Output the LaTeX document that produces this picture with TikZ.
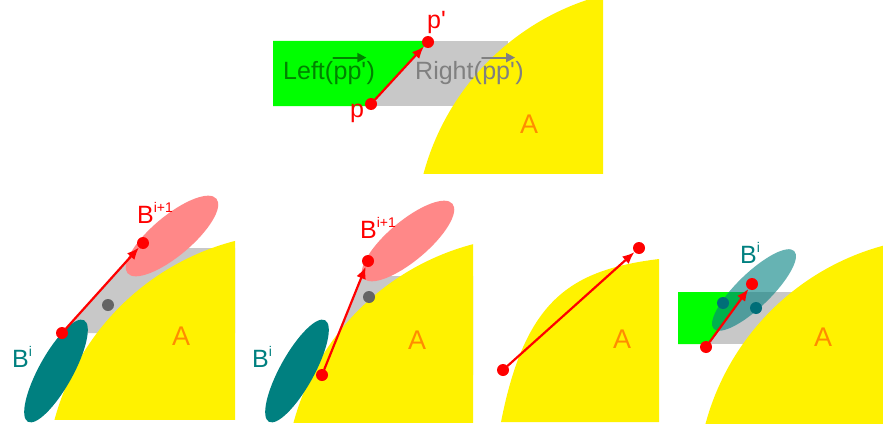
\documentclass[tikz,border=0pt]{standalone}
\usepackage{fontspec}
\setmainfont{Liberation Sans}
\usetikzlibrary{arrows.meta}
\definecolor{bandgray}{RGB}{200,200,200}
\definecolor{leftgreen}{RGB}{0,255,0}
\definecolor{lefttext}{RGB}{0,130,0}
\definecolor{righttext}{RGB}{128,128,128}
\definecolor{bteal}{RGB}{0,128,128}
\definecolor{bpink}{RGB}{255,136,136}
\definecolor{aorange}{RGB}{255,140,0}
\definecolor{darkdot}{RGB}{100,100,100}
\definecolor{tealdot}{RGB}{0,110,120}
\tikzset{
  lbl/.style={anchor=base west,inner sep=0pt,font=\fontsize{25}{30}\selectfont},
  albl/.style={anchor=base west,inner sep=0pt,text=aorange,font=\fontsize{27}{32}\selectfont},
  dot/.style={circle,fill=red,inner sep=0pt,minimum size=12pt},
  vec/.style={red,line width=2.2pt,-{Latex[length=12pt,width=10pt]}},
  ovec/.style={line width=2pt,-{Triangle[length=9pt,width=9pt]}}
}
\newcommand\upidx[1]{\raisebox{11pt}{\fontsize{14}{14}\selectfont #1}}
\begin{document}
\begin{tikzpicture}[x=1pt,y=-1pt,line cap=round,line join=round]
  \useasboundingbox (0,0) rectangle (883,428);
  % top: the two half planes of pp'
  \fill[bandgray] (273,41) rectangle (508,106);
  \fill[leftgreen] (273,41) -- (429,41) -- (369,106) -- (273,106) -- cycle;
  \begin{scope}
    \clip (380,0) rectangle (603,173);
    \fill[yellow] (667,239) circle (252);
  \end{scope}
  \node[lbl,text=lefttext] (lft) at (283,79) {Left(};
  \node[lbl,text=lefttext] (lftpp) at (lft.base east) {pp\textquotesingle};
  \node[lbl,text=lefttext] (lftcl) at (lftpp.base east) {)};
  \draw[ovec,lefttext] ([yshift=4pt]lftpp.north west) -- ([yshift=4pt]lftpp.north east);
  \node[lbl,text=righttext] (rgt) at (415,79) {Right(};
  \node[lbl,text=righttext] (rgtpp) at (rgt.base east) {pp\textquotesingle};
  \node[lbl,text=righttext] (rgtcl) at (rgtpp.base east) {)};
  \draw[ovec,righttext] ([yshift=4pt]rgtpp.north west) -- ([yshift=4pt]rgtpp.north east);
  \node[albl] (a0) at (520,133) {A};
  \node[dot] (p) at (371,104) {};
  \node[dot] (pq) at (428,42) {};
  \draw[vec] (p) -- (pq);
  \node[lbl,text=red] (lp) at (350,117) {p};
  \node[lbl,text=red] (lpq) at (427,29) {p\textquotesingle};

  % panel 1
  \fill[bandgray] (62,333) -- (138,248) -- (235,248) -- (235,333) -- cycle;
  \begin{scope}
    \clip (0,0) rectangle (235,419);
    \fill[yellow] (298,485) circle (252);
  \end{scope}
  \fill[bpink,rotate around={40:(172,236)}] (172,236) ellipse[x radius=58,y radius=20];
  \fill[bteal,rotate around={61:(56,371)}] (56,371) ellipse[x radius=58,y radius=17];
  \node[dot,fill=darkdot] (c1) at (108,305) {};
  \node[dot] (s1) at (62,333) {};
  \node[dot] (t1) at (143,243) {};
  \draw[vec] (s1) -- (t1);
  \node[lbl,text=red] (bj1) at (137,223) {B\upidx{i+1}};
  \node[lbl,text=bteal] (bi1) at (12,367) {B\upidx{i}};
  \node[albl] (a1) at (172,345) {A};

  % panel 2
  \fill[bandgray] (322,375) -- (362,276) -- (473,276) -- (473,375) -- cycle;
  \begin{scope}
    \clip (240,0) rectangle (473,422);
    \fill[yellow] (537,488) circle (252);
  \end{scope}
  \fill[bpink,rotate around={40:(408,241)}] (408,241) ellipse[x radius=58,y radius=20];
  \fill[bteal,rotate around={61:(297,371)}] (297,371) ellipse[x radius=58,y radius=17];
  \node[dot,fill=darkdot] (c2) at (369,297) {};
  \node[dot] (s2) at (322,375) {};
  \node[dot] (t2) at (368,261) {};
  \draw[vec] (s2) -- (t2);
  \node[lbl,text=red] (bj2) at (360,238) {B\upidx{i+1}};
  \node[lbl,text=bteal] (bi2) at (252,367) {B\upidx{i}};
  \node[albl] (a2) at (408,349) {A};

  % panel 3
  \fill[yellow] (501,422) .. controls (525,300) and (570,270) .. (659,259) -- (659,422) -- cycle;
  \node[dot] (s3) at (503,370) {};
  \node[dot] (t3) at (639,248) {};
  \draw[vec] (s3) -- (t3);
  \node[albl] (a3) at (613,348) {A};

  % panel 4
  \fill[bandgray] (678,292) rectangle (793,344);
  \fill[leftgreen] (678,292) -- (746,292) -- (708,344) -- (678,344) -- cycle;
  \begin{scope}
    \clip (660,0) rectangle (883,423);
    \fill[yellow] (949,489) circle (252);
  \end{scope}
  \fill[bteal,opacity=0.6,rotate around={44:(754,290)}] (754,290) ellipse[x radius=56,y radius=17];
  \node[dot,fill=tealdot] (u4) at (723,303) {};
  \node[dot,fill=tealdot] (v4) at (756,308) {};
  \node[dot] (s4) at (706,347) {};
  \node[dot] (t4) at (752,284) {};
  \draw[vec] (s4) -- (t4);
  \node[lbl,text=bteal] (bi4) at (740,263) {B\upidx{i}};
  \node[albl] (a4) at (814,346) {A};
\end{tikzpicture}
\end{document}
